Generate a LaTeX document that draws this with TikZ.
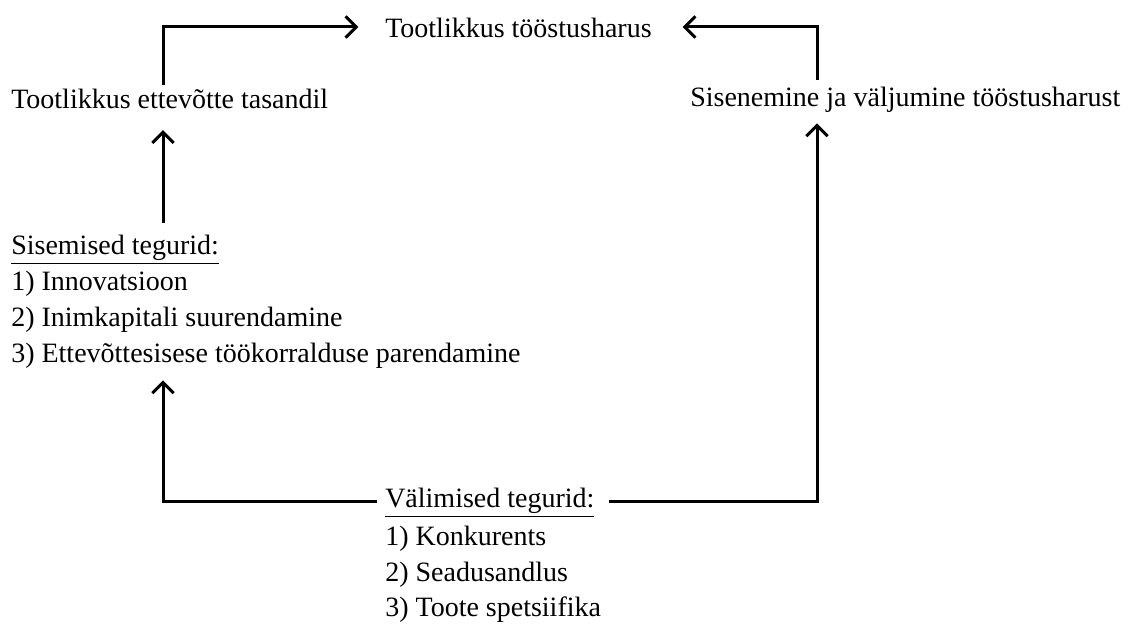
\documentclass[tikz,border=0pt]{standalone}
\usepackage{fontspec}
\setmainfont{Liberation Serif}
\usetikzlibrary{arrows.meta}
\tikzset{
	arrow/.style={line width=2.25pt, -{Straight Barb[length=8pt, width=16pt]}}
}

\begin{document}
\begin{tikzpicture}[
		x=0.75pt, y=0.75pt,
		txt/.style={inner sep=0pt, anchor=base west, text height=14pt, text depth=4.6pt, font=\fontsize{21pt}{26.8pt}\selectfont},
		lst/.style={inner sep=0pt, anchor=base west, align=left, font=\fontsize{21pt}{26.8pt}\selectfont}
		]
		\useasboundingbox (0,0) rectangle (1123,624);
		
		\node[txt] (industry) at (385,586) {Tootlikkus tööstusharus};
		\node[txt] (firm) at (11,515) {Tootlikkus ettevõtte tasandil};
		\node[txt] (entry) at (690,517) {Sisenemine ja väljumine tööstusharust};
		
		% base of a multi-line node is its last line
		\node[txt] (inthead) at (11,369) {\underline{Sisemised tegurid:}};
		\node[lst] (intlist) at ([yshift=-80.4pt]inthead.base west) {1) Innovatsioon\\ 2) Inimkapitali suurendamine\\ 3) Ettevõttesisese töökorralduse parendamine};
		
		\node[txt] (exthead) at (385,116) {\underline{Välimised tegurid:}};
		\node[lst] (extlist) at ([yshift=-81.6pt]exthead.base west) {1) Konkurents\\ 2) Seadusandlus\\ 3) Toote spetsiifika};
		
		\coordinate (topL) at (163,597);
		\coordinate (topR) at (817,597);
		
		\draw[arrow, shorten <=4pt, shorten >=20pt] (firm.north -| topL) -- (topL) -- (industry.west |- topL);
		\draw[arrow, shorten <=6pt, shorten >=23pt] (entry.north -| topR) -- (topR) -- (industry.east |- topR);
		\draw[arrow, shorten <=10pt, shorten >=11pt] (inthead.north -| topL) -- (firm.south -| topL);
		\draw[arrow, shorten <=6pt, shorten >=9pt] (exthead.west) -| (intlist.south -| topL);
		\draw[arrow, shorten <=11pt, shorten >=7.5pt] (exthead.east) -| (entry.south -| topR);
		
	\end{tikzpicture}
\end{document}
